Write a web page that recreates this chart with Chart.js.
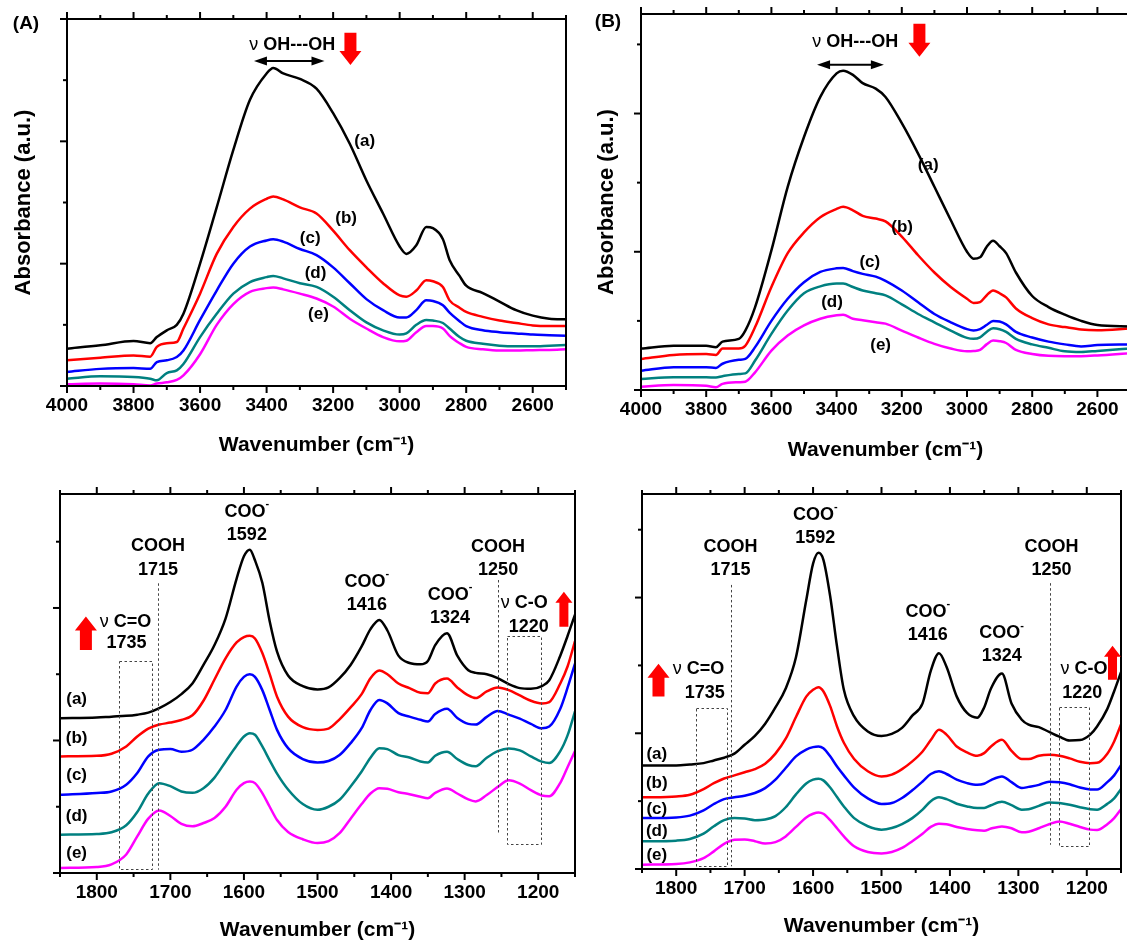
<!DOCTYPE html>
<html>
<head>
<meta charset="utf-8">
<title>FTIR spectra (a)–(e)</title>
<script src="https://cdn.jsdelivr.net/npm/chart.js@4.4.1/dist/chart.umd.min.js"></script>
<style>
  html, body { margin: 0; padding: 0; background: #fff; }
  body { position: relative; width: 1127px; height: 943px; overflow: hidden; font-family: 'Liberation Sans', Arial, sans-serif; }
  canvas { position: absolute; }
  .tag { position: absolute; font-weight: bold; font-size: 19px; color: #000; transform: translate(-50%, -50%); white-space: nowrap; }
</style>
</head>
<body>
<canvas id="panelA" width="580" height="470" style="left:0;top:0"></canvas>
<canvas id="panelB" width="560" height="470" style="left:580px;top:0"></canvas>
<canvas id="panelC" width="590" height="473" style="left:0;top:470px"></canvas>
<canvas id="panelD" width="547" height="473" style="left:580px;top:470px"></canvas>
<div class="tag" style="left:26px;top:23px">(A)</div>
<div class="tag" style="left:608px;top:21px">(B)</div>
<script>
// ---- Series names ----
const seriesLabels = ['(a)', '(b)', '(c)', '(d)', '(e)'];

// ---- Axis tick values ----
const xTicksHigh = [4000, 3800, 3600, 3400, 3200, 3000, 2800, 2600];
const xMinorHigh = [3900, 3700, 3500, 3300, 3100, 2900, 2700, 2500];
const xTicksLow = [1800, 1700, 1600, 1500, 1400, 1300, 1200];
const xMinorLow = [1850, 1750, 1650, 1550, 1450, 1350, 1250, 1150];
const yMajorA = [0, 1, 2, 3];
const yMajorOther = [0, 1, 2];
const yMinorAll = [0.5, 1.5, 2.5];

// ---- Panel A: O-H stretching region ----
const wnA = [4000, 3900, 3800, 3750, 3730, 3700, 3670, 3650, 3600, 3550,
             3500, 3450, 3400, 3380, 3350, 3300, 3250, 3200, 3150, 3100,
             3050, 3000, 2980, 2950, 2920, 2900, 2870, 2850, 2820, 2800,
             2750, 2700, 2650, 2600, 2550, 2500];
const A_a = [.305, .333, .368, .35, .40, .455, .50, .59, 1.0, 1.46,
             1.93, 2.34, 2.555, 2.60, 2.555, 2.51, 2.43, 2.23, 1.98, 1.68,
             1.41, 1.14, 1.08, 1.15, 1.30, 1.29, 1.20, 1.03, .90, .82,
             .76, .69, .62, .575, .55, .545];
const A_b = [.21, .23, .25, .24, .32, .35, .36, .47, .755, 1.08,
             1.30, 1.45, 1.53, 1.55, 1.525, 1.46, 1.41, 1.27, 1.11, .97,
             .84, .74, .73, .78, .865, .856, .81, .70, .64, .605,
             .565, .535, .515, .495, .49, .49];
const A_c = [.115, .14, .147, .14, .196, .21, .237, .29, .54, .78,
             1.0, 1.14, 1.19, 1.20, 1.18, 1.12, 1.07, .97, .84, .71,
             .62, .56, .56, .62, .70, .695, .66, .60, .53, .49,
             .455, .44, .43, .42, .415, .41];
const A_d = [.06, .08, .074, .06, .046, .106, .128, .18, .40, .59,
             .755, .85, .89, .90, .88, .84, .81, .73, .62, .52,
             .455, .42, .43, .50, .54, .535, .515, .47, .40, .37,
             .345, .33, .325, .325, .33, .335];
const A_e = [.014, .02, .014, .005, .02, .03, .05, .087, .26, .50,
             .67, .77, .80, .805, .79, .755, .715, .65, .55, .47,
             .40, .365, .37, .44, .49, .49, .47, .41, .35, .32,
             .30, .29, .29, .293, .295, .30];

// ---- Panel B: O-H stretching region ----
const wnB = [4000, 3900, 3800, 3770, 3750, 3700, 3680, 3650, 3600, 3550,
             3500, 3450, 3400, 3380, 3350, 3320, 3280, 3250, 3200, 3150,
             3100, 3050, 3000, 2980, 2960, 2940, 2920, 2900, 2880, 2850,
             2800, 2750, 2700, 2650, 2600, 2500];
const B_a = [.30, .32, .32, .31, .35, .37, .43, .60, 1.01, 1.47,
             1.83, 2.12, 2.29, 2.31, 2.28, 2.22, 2.18, 2.12, 1.93, 1.71,
             1.47, 1.23, 1.0, .95, .96, 1.035, 1.08, 1.04, .99, .85,
             .68, .60, .545, .50, .47, .46];
const B_b = [.225, .254, .26, .254, .30, .30, .32, .455, .745, .99,
             1.14, 1.25, 1.31, 1.325, 1.30, 1.26, 1.24, 1.22, 1.11, .975,
             .85, .745, .66, .63, .636, .684, .72, .70, .67, .59,
             .52, .475, .455, .437, .432, .445];
const B_c = [.14, .165, .165, .16, .19, .218, .225, .31, .50, .66,
             .78, .854, .88, .883, .86, .84, .82, .79, .72, .635,
             .55, .49, .44, .43, .44, .47, .50, .496, .475, .42,
             .38, .35, .33, .315, .325, .33];
const B_d = [.08, .092, .092, .09, .10, .116, .12, .213, .406, .575,
             .70, .75, .77, .77, .745, .72, .70, .684, .62, .55,
             .49, .43, .377, .37, .38, .42, .447, .44, .42, .37,
             .33, .305, .28, .275, .283, .30];
const B_e = [.024, .036, .03, .02, .044, .056, .06, .128, .285, .394,
             .467, .515, .54, .544, .515, .505, .49, .48, .43, .38,
             .334, .30, .28, .282, .29, .33, .358, .353, .34, .29,
             .26, .247, .245, .245, .25, .266];

// ---- Fingerprint region (both lower panels) ----
const wnLow = [1850, 1800, 1780, 1760, 1745, 1730, 1715, 1700, 1685, 1670,
               1655, 1640, 1625, 1610, 1600, 1592, 1585, 1575, 1565, 1555,
               1540, 1520, 1500, 1485, 1470, 1455, 1440, 1428, 1416, 1405,
               1390, 1375, 1360, 1350, 1340, 1324, 1310, 1295, 1285, 1270,
               1255, 1240, 1225, 1210, 1195, 1185, 1170, 1160, 1150];
const C_a = [1.168, 1.173, 1.18, 1.186, 1.195, 1.21, 1.244, 1.29, 1.35, 1.43,
             1.57, 1.72, 1.92, 2.22, 2.39, 2.44, 2.36, 2.19, 1.90, 1.67,
             1.49, 1.41, 1.385, 1.40, 1.47, 1.57, 1.71, 1.84, 1.91, 1.83,
             1.64, 1.585, 1.575, 1.60, 1.72, 1.81, 1.64, 1.53, 1.51, 1.50,
             1.47, 1.425, 1.395, 1.39, 1.41, 1.455, 1.64, 1.79, 1.95];
const C_b = [.88, .884, .90, .955, 1.03, 1.09, 1.12, 1.135, 1.155, 1.19,
             1.30, 1.46, 1.62, 1.74, 1.78, 1.79, 1.77, 1.66, 1.50, 1.33,
             1.18, 1.10, 1.08, 1.09, 1.16, 1.25, 1.35, 1.47, 1.528, 1.50,
             1.43, 1.395, 1.36, 1.357, 1.43, 1.467, 1.40, 1.34, 1.32, 1.37,
             1.40, 1.38, 1.34, 1.30, 1.28, 1.29, 1.43, 1.56, 1.75];
const C_c = [.59, .603, .615, .666, .754, .88, .93, .935, .915, .93,
             1.005, 1.105, 1.23, 1.407, 1.48, 1.50, 1.48, 1.38, 1.23, 1.08,
             .942, .86, .834, .845, .89, .98, 1.093, 1.23, 1.306, 1.28,
             1.206, 1.18, 1.156, 1.143, 1.20, 1.24, 1.17, 1.125, 1.12, 1.178,
             1.223, 1.195, 1.165, 1.125, 1.092, 1.105, 1.24, 1.40, 1.58];
const C_d = [.289, .294, .307, .36, .46, .60, .678, .655, .615, .605,
             .64, .72, .84, .96, 1.03, 1.055, 1.043, .955, .85, .75,
             .63, .52, .477, .50, .553, .653, .766, .87, .942, .935,
             .89, .872, .842, .834, .885, .915, .86, .815, .805, .87,
             .92, .94, .925, .88, .84, .83, .92, 1.04, 1.22];
const C_e = [.038, .045, .065, .14, .276, .41, .472, .43, .37, .352,
             .377, .415, .50, .628, .678, .69, .678, .603, .50, .40,
             .31, .255, .226, .24, .30, .41, .52, .60, .64, .635,
             .61, .595, .575, .565, .605, .638, .60, .555, .54, .588,
             .65, .70, .675, .625, .585, .58, .68, .80, .92];

const D_a = [.763, .763, .77, .78, .80, .82, .85, .915, .98, 1.07,
             1.19, 1.33, 1.56, 1.98, 2.25, 2.33, 2.28, 2.01, 1.64, 1.32,
             1.124, 1.013, .98, .995, 1.04, 1.13, 1.22, 1.46, 1.59, 1.49,
             1.27, 1.15, 1.115, 1.19, 1.33, 1.44, 1.22, 1.10, 1.063, 1.045,
             1.01, .975, .947, .95, .99, 1.05, 1.18, 1.31, 1.45];
const D_b = [.528, .535, .547, .589, .632, .667, .69, .713, .736, .775,
             .85, .96, 1.12, 1.27, 1.32, 1.34, 1.31, 1.20, 1.05, .93,
             .81, .72, .682, .695, .736, .793, .866, .95, 1.026, .99,
             .903, .859, .834, .854, .903, .952, .87, .81, .81, .835,
             .842, .835, .815, .79, .78, .782, .85, .94, 1.065];
const D_c = [.375, .38, .393, .432, .479, .515, .528, .54, .56, .596,
             .658, .744, .83, .88, .898, .903, .89, .83, .755, .69,
             .60, .52, .479, .486, .523, .58, .645, .70, .72, .70,
             .658, .633, .62, .628, .655, .682, .64, .596, .605, .62,
             .643, .64, .625, .60, .586, .585, .64, .69, .765];
const D_d = [.204, .209, .221, .26, .315, .36, .375, .372, .36, .365,
             .39, .455, .55, .63, .658, .665, .653, .60, .53, .461,
             .375, .315, .29, .302, .331, .375, .437, .50, .528, .515,
             .481, .461, .449, .449, .47, .495, .47, .437, .44, .465,
             .49, .487, .474, .455, .44, .437, .48, .52, .59];
const D_e = [.032, .037, .049, .08, .13, .185, .215, .218, .205, .188,
             .198, .24, .31, .38, .407, .417, .407, .36, .30, .24,
             .167, .125, .115, .125, .155, .205, .26, .31, .334, .33,
             .31, .295, .285, .282, .298, .314, .30, .27, .275, .30,
             .33, .35, .333, .31, .29, .287, .33, .375, .44];

// ---- Styling ----
const FONT = "'Liberation Sans', Arial, sans-serif";
const seriesColors = ['#000000', '#ff0000', '#0000ff', '#008080', '#ff00ff'];
Chart.defaults.font.family = FONT;

// Annotation helpers (positions given in data units of each panel)
const label = (x, y, t, size = 17) => ({ kind: 'text', x, y, size, parts: [{ t }] });
const bold = (x, y, t, size = 18) => ({ kind: 'text', x, y, size, parts: [{ t }] });
const nu = (x, y, t, size = 18) => ({ kind: 'text', x, y, size, parts: [{ t: 'ν ', w: 'normal' }, { t }] });
const coo = (x, y, size = 18) => ({ kind: 'text', x, y, size, parts: [{ t: 'COO' }, { t: '-', sup: true }] });
const vline = (x, y1, y2) => ({ kind: 'vline', x, y1, y2 });
const box = (x1, x2, y1, y2) => ({ kind: 'box', x1, x2, y1, y2 });
const block = (x, from, to, size) => ({ kind: 'block', x, from, to, size: size || 'wide' });
const span = (x1, x2, y) => ({ kind: 'span', x1, x2, y });

function drawParts(ctx, cx, cy, parts, size) {
  const fontOf = p => `${p.w || 'bold'} ${p.sup ? Math.round(size * 0.62) : size}px ${FONT}`;
  let total = 0;
  const widths = parts.map(p => { ctx.font = fontOf(p); const w = ctx.measureText(p.t).width; total += w; return w; });
  let x = cx - total / 2;
  ctx.fillStyle = '#000';
  ctx.textAlign = 'left';
  ctx.textBaseline = 'middle';
  parts.forEach((p, i) => {
    ctx.font = fontOf(p);
    ctx.fillText(p.t, x, p.sup ? cy - size * 0.42 : cy);
    x += widths[i];
  });
}

function blockArrow(ctx, px, pTail, pTip, size) {
  const s = size === 'narrow' ? { shaft: 9, head: 17, len: 11 } : { shaft: 12, head: 22, len: 14 };
  const dir = pTip > pTail ? 1 : -1;
  const neck = pTip - dir * s.len;
  ctx.fillStyle = '#ff0000';
  ctx.beginPath();
  ctx.moveTo(px - s.shaft / 2, pTail);
  ctx.lineTo(px - s.shaft / 2, neck);
  ctx.lineTo(px - s.head / 2, neck);
  ctx.lineTo(px, pTip);
  ctx.lineTo(px + s.head / 2, neck);
  ctx.lineTo(px + s.shaft / 2, neck);
  ctx.lineTo(px + s.shaft / 2, pTail);
  ctx.closePath();
  ctx.fill();
}

function spanArrow(ctx, xa, xb, py) {
  const l = Math.min(xa, xb), r = Math.max(xa, xb), len = 13, hw = 4.5;
  ctx.strokeStyle = '#000';
  ctx.fillStyle = '#000';
  ctx.lineWidth = 2;
  ctx.beginPath(); ctx.moveTo(l + len - 2, py); ctx.lineTo(r - len + 2, py); ctx.stroke();
  ctx.beginPath(); ctx.moveTo(l, py); ctx.lineTo(l + len, py - hw); ctx.lineTo(l + len, py + hw); ctx.closePath(); ctx.fill();
  ctx.beginPath(); ctx.moveTo(r, py); ctx.lineTo(r - len, py - hw); ctx.lineTo(r - len, py + hw); ctx.closePath(); ctx.fill();
}

// Draws the framed box with outward major/minor ticks
function frameTicks(cfg) {
  return {
    id: 'frameTicks',
    afterDatasetsDraw(chart) {
      const { ctx, chartArea: ca } = chart;
      const xs = chart.scales.x, ys = chart.scales.y;
      const seg = (x1, y1, x2, y2) => { ctx.beginPath(); ctx.moveTo(x1, y1); ctx.lineTo(x2, y2); ctx.stroke(); };
      const MAJ = 7, MIN = 4;
      ctx.save();
      ctx.strokeStyle = '#000';
      ctx.lineWidth = 2;
      ctx.strokeRect(ca.left, ca.top, ca.right - ca.left, ca.bottom - ca.top);
      cfg.xTicks.forEach(v => { const p = xs.getPixelForValue(v); seg(p, ca.bottom, p, ca.bottom + MAJ); seg(p, ca.top, p, ca.top - MAJ); });
      cfg.xMinor.forEach(v => { const p = xs.getPixelForValue(v); seg(p, ca.bottom, p, ca.bottom + MIN); seg(p, ca.top, p, ca.top - MIN); });
      cfg.yMajor.forEach(v => { const p = ys.getPixelForValue(v); seg(ca.left, p, ca.left - MAJ, p); });
      cfg.yMinor.forEach(v => { const p = ys.getPixelForValue(v); if (p >= ca.top - 1) seg(ca.left, p, ca.left - MIN, p); });
      ctx.restore();
    }
  };
}

// Draws band labels, guide lines and arrows
function notes(items) {
  return {
    id: 'notes',
    afterDatasetsDraw(chart) {
      const { ctx } = chart;
      const X = v => chart.scales.x.getPixelForValue(v);
      const Y = v => chart.scales.y.getPixelForValue(v);
      ctx.save();
      items.forEach(n => {
        if (n.kind === 'text') {
          drawParts(ctx, X(n.x), Y(n.y), n.parts, n.size);
        } else if (n.kind === 'vline') {
          ctx.setLineDash([2.5, 2.5]); ctx.strokeStyle = '#444'; ctx.lineWidth = 1;
          const px = Math.round(X(n.x)) + 0.5;
          ctx.beginPath(); ctx.moveTo(px, Y(n.y1)); ctx.lineTo(px, Y(n.y2)); ctx.stroke();
          ctx.setLineDash([]);
        } else if (n.kind === 'box') {
          ctx.setLineDash([2.5, 2.5]); ctx.strokeStyle = '#444'; ctx.lineWidth = 1;
          const l = Math.round(X(n.x1)) + 0.5, r = Math.round(X(n.x2)) + 0.5;
          const t = Math.round(Y(n.y1)) + 0.5, b = Math.round(Y(n.y2)) + 0.5;
          ctx.strokeRect(l, t, r - l, b - t);
          ctx.setLineDash([]);
        } else if (n.kind === 'block') {
          blockArrow(ctx, X(n.x), Y(n.from), Y(n.to), n.size);
        } else if (n.kind === 'span') {
          spanArrow(ctx, X(n.x1), X(n.x2), Y(n.y));
        }
      });
      ctx.restore();
    }
  };
}

function buildPanel(id, cfg) {
  const tickList = cfg.xTicks.slice().sort((p, q) => p - q);
  return new Chart(document.getElementById(id), {
    type: 'line',
    data: {
      datasets: cfg.series.map((vals, i) => ({
        label: seriesLabels[i],
        data: cfg.wn.map((w, k) => ({ x: w, y: vals[k] })),
        borderColor: seriesColors[i],
        borderWidth: 2.5,
        pointRadius: 0,
        fill: false,
        cubicInterpolationMode: 'monotone'
      }))
    },
    options: {
      responsive: false,
      animation: false,
      events: [],
      layout: { padding: cfg.pad },
      plugins: { legend: { display: false }, tooltip: { enabled: false } },
      scales: {
        x: {
          type: 'linear',
          reverse: true,
          min: cfg.xMin,
          max: cfg.xMax,
          afterBuildTicks: s => { s.ticks = tickList.map(v => ({ value: v })); },
          afterFit: s => { s.height = cfg.xHeight; },
          grid: { display: false, drawTicks: false },
          border: { display: false },
          ticks: {
            color: '#000', font: { size: 19, weight: 'bold' }, padding: 8,
            maxRotation: 0, autoSkip: false, callback: v => String(v)
          },
          title: { display: true, text: 'Wavenumber (cm⁻¹)', color: '#000', font: { size: 21, weight: 'bold' }, padding: 0 }
        },
        y: {
          type: 'linear',
          min: 0,
          max: cfg.yMax,
          afterFit: s => { s.width = cfg.yWidth; },
          grid: { display: false, drawTicks: false },
          border: { display: false },
          ticks: { display: false },
          title: { display: !!cfg.yTitle, text: cfg.yTitle || '', color: '#000', font: { size: 22, weight: 'bold' }, padding: 0 }
        }
      }
    },
    plugins: [frameTicks(cfg), notes(cfg.notes)]
  });
}

buildPanel('panelA', {
  wn: wnA, series: [A_a, A_b, A_c, A_d, A_e],
  xMin: 2500, xMax: 4000, yMax: 3.0,
  xTicks: xTicksHigh, xMinor: xMinorHigh, yMajor: yMajorA, yMinor: yMinorAll,
  pad: { left: 11, top: 19, right: 14, bottom: 12 }, yWidth: 56, xHeight: 72,
  yTitle: 'Absorbance (a.u.)',
  notes: [
    nu(3323, 2.79, 'OH---OH'),
    span(3438, 3226, 2.656),
    block(3148, 2.888, 2.623),
    label(3105, 2.0, '(a)'), label(3161, 1.37, '(b)'), label(3269, 1.21, '(c)'),
    label(3253, 0.925, '(d)'), label(3244, 0.584, '(e)')
  ]
});

buildPanel('panelB', {
  wn: wnB, series: [B_a, B_b, B_c, B_d, B_e],
  xMin: 2500, xMax: 4000, yMax: 2.72,
  xTicks: xTicksHigh, xMinor: xMinorHigh, yMajor: yMajorOther, yMinor: yMinorAll,
  pad: { left: 14, top: 14, right: 10, bottom: 7 }, yWidth: 47, xHeight: 73,
  yTitle: 'Absorbance (a.u.)',
  notes: [
    nu(3343, 2.515, 'OH---OH'),
    span(3460, 3255, 2.353),
    block(3146, 2.65, 2.41),
    label(3119, 1.628, '(a)'), label(3199, 1.18, '(b)'), label(3298, 0.926, '(c)'),
    label(3414, 0.636, '(d)'), label(3265, 0.322, '(e)')
  ]
});

buildPanel('panelC', {
  wn: wnLow, series: [C_a, C_b, C_c, C_d, C_e],
  xMin: 1150, xMax: 1850, yMax: 2.86,
  xTicks: xTicksLow, xMinor: xMinorLow, yMajor: yMajorOther, yMinor: yMinorAll,
  pad: { left: 0, top: 24, right: 15, bottom: 0 }, yWidth: 60, xHeight: 70,
  notes: [
    vline(1717, 2.186, 0.025), vline(1254.5, 2.211, 0.289),
    box(1769.6, 1724.4, 1.603, 0.03), box(1241.9, 1196.7, 1.791, 0.219),
    coo(1596, 2.726), bold(1596, 2.55, '1592'),
    bold(1716.8, 2.467, 'COOH'), bold(1716.8, 2.286, '1715'),
    coo(1432.9, 2.198), bold(1432.9, 2.023, '1416'),
    coo(1319.8, 2.098), bold(1319.8, 1.922, '1324'),
    bold(1254.5, 2.462, 'COOH'), bold(1254.5, 2.286, '1250'),
    nu(1761, 1.897, 'C=O'), bold(1759.5, 1.734, '1735'),
    nu(1218.9, 2.035, 'C-O'), bold(1212.8, 1.859, '1220'),
    block(1814.8, 1.683, 1.935), block(1165.1, 1.859, 2.123, 'narrow'),
    label(1827.4, 1.312, '(a)'), label(1827.4, 1.018, '(b)'), label(1827.4, 0.734, '(c)'),
    label(1827.4, 0.427, '(d)'), label(1827.4, 0.151, '(e)')
  ]
});

buildPanel('panelD', {
  wn: wnLow, series: [D_a, D_b, D_c, D_d, D_e],
  xMin: 1150, xMax: 1850, yMax: 2.763,
  xTicks: xTicksLow, xMinor: xMinorLow, yMajor: yMajorOther, yMinor: yMinorAll,
  pad: { left: 0, top: 24, right: 6, bottom: 4 }, yWidth: 62, xHeight: 70,
  notes: [
    vline(1719.6, 2.093, 0.02), vline(1253.2, 2.106, 0.179),
    box(1770.8, 1725.6, 1.185, 0.025), box(1240.7, 1196.5, 1.193, 0.167),
    coo(1596.7, 2.609), bold(1596.7, 2.437, '1592'),
    bold(1720.6, 2.375, 'COOH'), bold(1720.6, 2.204, '1715'),
    coo(1432.3, 1.897), bold(1432.3, 1.725, '1416'),
    coo(1324.4, 1.737), bold(1324.4, 1.566, '1324'),
    bold(1251.7, 2.375, 'COOH'), bold(1251.7, 2.204, '1250'),
    nu(1767.3, 1.472, 'C=O'), bold(1758.2, 1.296, '1735'),
    nu(1204.1, 1.472, 'C-O'), bold(1206.6, 1.296, '1220'),
    block(1825.9, 1.271, 1.512), block(1162.4, 1.394, 1.644, 'narrow'),
    label(1828.4, 0.842, '(a)'), label(1828.4, 0.633, '(b)'), label(1828.4, 0.442, '(c)'),
    label(1828.4, 0.277, '(d)'), label(1828.4, 0.098, '(e)')
  ]
});
</script>
</body>
</html>
